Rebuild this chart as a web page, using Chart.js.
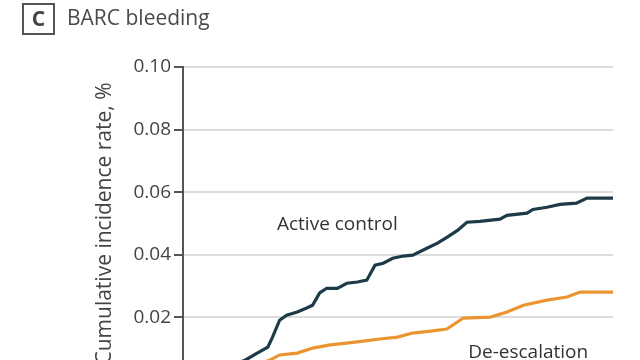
<!DOCTYPE html>
<html>
<head>
<meta charset="utf-8">
<script src="https://cdn.jsdelivr.net/npm/chart.js@4.4.1/dist/chart.umd.min.js"></script>
<style>
  html, body { margin: 0; padding: 0; width: 640px; height: 360px; overflow: hidden; background: #fff; }
  #wrap { position: absolute; left: 0; top: 0; width: 640px; height: 440px; }
  #panel { position: absolute; left: 22px; top: 3px; width: 29px; height: 28px; border: 2px solid #555;
    font: bold 21px "Open Sans", sans-serif; color: #444; text-align: center; line-height: 27px; }
  #title { position: absolute; left: 67px; top: 3px; font: 21px "Open Sans", sans-serif; color: #4a4a4a; }
</style>
</head>
<body>
<div id="wrap"><canvas id="chart"></canvas></div>
<div id="panel">C</div>
<div id="title">BARC bleeding</div>
<script>
// days since randomization, cumulative incidence
var activeDays = [0, 31, 53, 63, 72, 76, 82, 88, 97, 105, 110, 116, 122, 131, 139, 148, 156, 163, 170, 178, 187, 195, 207, 216, 224, 233, 241, 252, 269, 275, 292, 297, 309, 320, 334, 343, 365];
var activeRate = [0, 0.003, 0.0064, 0.0086, 0.0105, 0.0137, 0.0191, 0.0207, 0.0217, 0.0230, 0.0239, 0.0278, 0.0293, 0.0293, 0.0309, 0.0313, 0.0319, 0.0367, 0.0373, 0.0389, 0.0396, 0.0399, 0.0421, 0.0437, 0.0456, 0.0478, 0.0504, 0.0507, 0.0514, 0.0526, 0.0533, 0.0545, 0.0552, 0.0561, 0.0565, 0.0581, 0.0581];

var deescDays = [0, 40, 74, 82, 97, 110, 125, 139, 153, 167, 182, 195, 210, 224, 238, 261, 275, 289, 309, 326, 337, 365];
var deescRate = [0, 0.002, 0.0064, 0.0080, 0.0086, 0.0102, 0.0112, 0.0118, 0.0124, 0.0131, 0.0137, 0.0150, 0.0156, 0.0163, 0.0198, 0.0201, 0.0217, 0.0239, 0.0255, 0.0265, 0.0281, 0.0281];

var yTicks = [0, 0.02, 0.04, 0.06, 0.08, 0.10];

function toPoints(xs, ys) {
  return xs.map(function(x, i) { return { x: x, y: ys[i] }; });
}

// series labels placed in data space
var seriesLabels = {
  id: 'seriesLabels',
  afterDatasetsDraw: function(chart) {
    var ctx = chart.ctx, xs = chart.scales.x, ys = chart.scales.y;
    ctx.save();
    ctx.fillStyle = '#333';
    ctx.textAlign = 'center';
    ctx.textBaseline = 'middle';
    ctx.font = '19px "Open Sans", sans-serif';
    ctx.fillText('Active control', xs.getPixelForValue(131), ys.getPixelForValue(0.0495));
    ctx.fillText('De-escalation', xs.getPixelForValue(293), ys.getPixelForValue(0.0089));
    ctx.restore();
  }
};

new Chart(document.getElementById('chart'), {
  type: 'line',
  data: {
    datasets: [{
      label: 'Active control',
      data: toPoints(activeDays, activeRate),
      borderColor: '#1d3a48',
      borderWidth: 3.2,
      pointRadius: 0,
      tension: 0
    }, {
      label: 'De-escalation',
      data: toPoints(deescDays, deescRate),
      borderColor: '#eb9530',
      borderWidth: 3.2,
      pointRadius: 0,
      tension: 0
    }]
  },
  options: {
    responsive: true,
    maintainAspectRatio: false,
    animation: false,
    layout: { padding: { left: 92, top: 67, right: 27, bottom: 60 } },
    plugins: { legend: { display: false }, tooltip: { enabled: false } },
    scales: {
      x: {
        type: 'linear',
        min: 0,
        max: 365,
        display: false
      },
      y: {
        min: 0,
        max: 0.1,
        afterBuildTicks: function(scale) {
          scale.ticks = yTicks.map(function(v) { return { value: v }; });
        },
        afterFit: function(scale) { scale.width = 91; },
        ticks: {
          padding: 3,
          color: '#444',
          font: { family: 'Open Sans', size: 19 },
          callback: function(v) { return v.toFixed(2); }
        },
        grid: { color: '#dcdcdc', lineWidth: 2, tickLength: 9, tickColor: '#555', tickWidth: 2 },
        border: { color: '#555', width: 2 },
        title: {
          display: true,
          text: 'Cumulative incidence rate, %',
          color: '#444',
          font: { family: 'Open Sans', size: 21 },
          padding: { top: 0, bottom: 0 }
        }
      }
    }
  },
  plugins: [seriesLabels]
});
</script>
</body>
</html>
